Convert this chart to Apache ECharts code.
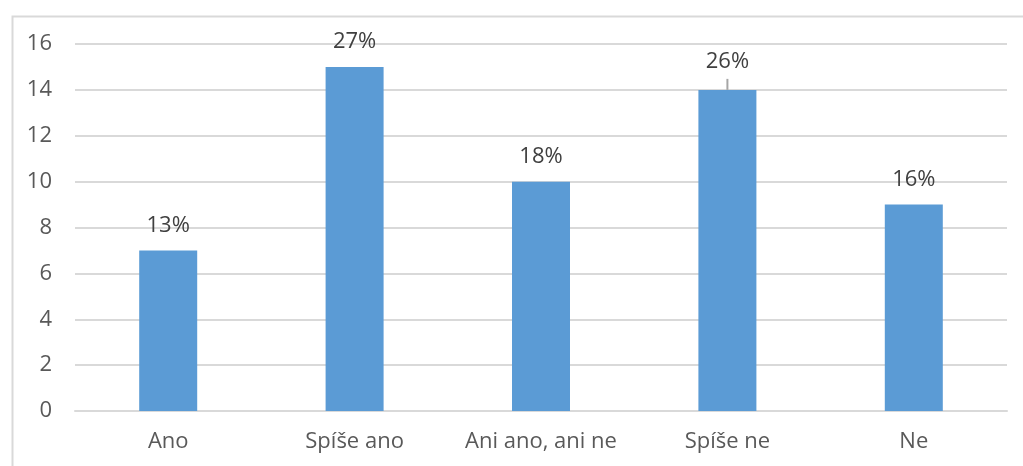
<!DOCTYPE html>
<html>
<head>
<meta charset="utf-8">
<script src="https://cdn.jsdelivr.net/npm/echarts@6/dist/echarts.min.js"></script>
<style>
  html, body { margin: 0; padding: 0; background: #fff; }
  #chart { width: 1023px; height: 466px; }
</style>
</head>
<body>
<div id="chart"></div>
<script>
// Survey answers and number of respondents per answer
const categories = ['Ano', 'Spíše ano', 'Ani ano, ani ne', 'Spíše ne', 'Ne'];
const counts = [7, 15, 10, 14, 9];
const shareLabels = ['13%', '27%', '18%', '26%', '16%'];
const yTicks = { min: 0, max: 16, interval: 2 };

const textColor = '#595959';
const gridColor = '#d9d9d9';
const fontFamily = '"Open Sans", "Noto Sans", sans-serif';
const fontSize = 22;
const raisedLabel = 3; // label lifted above its bar with a leader line

const chart = echarts.init(document.getElementById('chart'), null, { renderer: 'canvas' });

chart.setOption({
  animation: false,
  backgroundColor: '#ffffff',
  graphic: [{
    type: 'rect',
    left: 10, top: 14,
    shape: { width: 1100, height: 500 },
    style: { fill: 'none', stroke: gridColor, lineWidth: 2 },
    silent: true
  }],
  grid: { left: 75, right: 16, top: 44, bottom: 55, containLabel: false },
  xAxis: {
    type: 'category',
    data: categories,
    axisLine: { lineStyle: { color: gridColor, width: 2 } },
    axisTick: { show: false },
    axisLabel: { color: textColor, fontSize, fontFamily, margin: 20, interval: 0 }
  },
  yAxis: {
    type: 'value',
    min: yTicks.min, max: yTicks.max, interval: yTicks.interval,
    axisLine: { show: false },
    axisTick: { show: false },
    splitLine: { lineStyle: { color: gridColor, width: 2 } },
    axisLabel: { color: textColor, fontSize, fontFamily, margin: 23 }
  },
  series: [{
    type: 'bar',
    barWidth: 58,
    itemStyle: { color: '#5b9bd5' },
    data: counts.map((v, i) => (i === raisedLabel ? {
      value: v,
      label: { distance: 5 },
      labelLine: { show: true, lineStyle: { color: '#a6a6a6', width: 2 } }
    } : { value: v })),
    label: {
      show: true,
      position: 'top',
      distance: 14,
      color: '#404040',
      fontSize,
      fontFamily,
      formatter: p => (p.dataIndex === raisedLabel
        ? '{v|' + shareLabels[p.dataIndex] + '}\n{gap|}'
        : shareLabels[p.dataIndex]),
      rich: {
        v: { color: '#404040', fontSize, fontFamily },
        gap: { height: 11, fontSize: 1 }
      }
    },
    labelLayout: p => (p.dataIndex === raisedLabel ? { dy: -1 } : {})
  }]
});
</script>
</body>
</html>
